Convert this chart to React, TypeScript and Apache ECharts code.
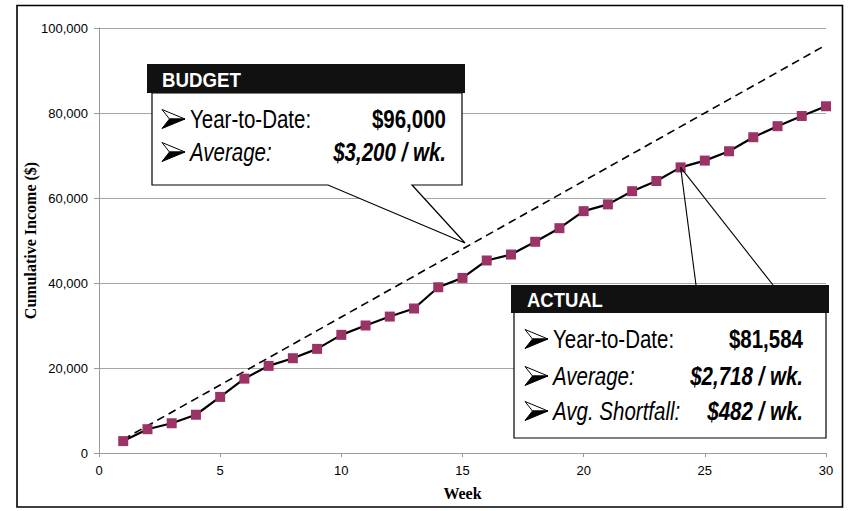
import React, { useEffect, useRef } from "react";
import * as echarts from "echarts";

const weeks = [1, 2, 3, 4, 5, 6, 7, 8, 9, 10, 11, 12, 13, 14, 15, 16, 17, 18, 19, 20, 21, 22, 23, 24, 25, 26, 27, 28, 29, 30];
const actualIncome = [2800, 5600, 7000, 9000, 13200, 17500, 20500, 22300, 24500, 27800, 30000, 32100, 34000, 39000, 41200, 45300, 46700, 49700, 52900, 56900, 58500, 61600, 64000, 67200, 68800, 71000, 74300, 76900, 79300, 81584];
const budgetIncome = [3200, 6400, 9600, 12800, 16000, 19200, 22400, 25600, 28800, 32000, 35200, 38400, 41600, 44800, 48000, 51200, 54400, 57600, 60800, 64000, 67200, 70400, 73600, 76800, 80000, 83200, 86400, 89600, 92800, 96000];
const budgetRows = [
  ["Year-to-Date:", "$96,000"],
  ["Average:", "$3,200 / wk."],
];
const actualRows = [
  ["Year-to-Date:", "$81,584"],
  ["Average:", "$2,718 / wk."],
  ["Avg. Shortfall:", "$482 / wk."],
];
const budgetTitle = "BUDGET";
const actualTitle = "ACTUAL";
const xName = "Week";
const yName = "Cumulative Income ($)";

const SANS = "'Liberation Sans', Arial, Helvetica, sans-serif";
const SERIF = "'Liberation Serif', 'Times New Roman', Times, serif";

function txt(x: number, y: number, text: string, opts: any = {}) {
  const align = opts.align || "left";
  return {
    type: "text",
    x,
    y,
    z: 110,
    scaleX: opts.scaleX ?? 0.82,
    style: {
      text,
      fill: opts.fill || "#000",
      fontSize: opts.fontSize || 25,
      fontFamily: SANS,
      fontWeight: opts.fontWeight || "normal",
      fontStyle: opts.fontStyle || "normal",
      align,
      verticalAlign: "middle",
      textAlign: align,
      textVerticalAlign: "middle",
    },
  };
}

// Wingdings-like arrowhead bullet drawn with two polygons
function arrow(x: number, y: number) {
  const w = 23;
  const h = 9.5;
  const n = 7.5;
  return [
    {
      type: "polygon",
      z: 110,
      shape: { points: [[x, y - h], [x + w, y], [x + n, y]] },
      style: { fill: "#fff", stroke: "#000", lineWidth: 1 },
    },
    {
      type: "polygon",
      z: 110,
      shape: { points: [[x + n, y], [x + w, y], [x, y + h]] },
      style: { fill: "#000", stroke: "#000", lineWidth: 1 },
    },
  ];
}

function rowElements(rows: string[][], ys: number[], arrowX: number, labelX: number, valueX: number) {
  const els: any[] = [];
  rows.forEach((r, i) => {
    const italic = i > 0 ? "italic" : "normal";
    els.push(...arrow(arrowX, ys[i]));
    els.push(txt(labelX, ys[i], r[0], { fontStyle: italic }));
    els.push(txt(valueX, ys[i], r[1], { fontStyle: italic, fontWeight: "bold", align: "right" }));
  });
  return els;
}

export default function App() {
  const ref = useRef<HTMLDivElement>(null);
  useEffect(() => {
    if (!ref.current) return;
    const chart = echarts.init(ref.current, null, { renderer: "svg" });
    chart.setOption({
      animation: false,
      backgroundColor: "#fff",
      grid: { left: 99, right: 24, top: 28, bottom: 58, containLabel: false },
      xAxis: {
        type: "value",
        min: 0,
        max: 30,
        interval: 5,
        name: xName,
        nameLocation: "middle",
        nameGap: 32,
        nameMoveOverlap: false,
        nameTextStyle: { fontFamily: SERIF, fontWeight: "bold", fontSize: 16, color: "#000" },
        axisLine: { show: true, lineStyle: { color: "#9a9a9a", width: 1 } },
        axisTick: { show: true, length: 4, lineStyle: { color: "#9a9a9a" } },
        axisLabel: { fontFamily: SANS, fontSize: 13, color: "#000", margin: 11 },
        splitLine: { show: false },
      },
      yAxis: {
        type: "value",
        min: 0,
        max: 100000,
        interval: 20000,
        name: yName,
        nameLocation: "middle",
        nameGap: 61,
        nameMoveOverlap: false,
        nameTextStyle: { fontFamily: SERIF, fontWeight: "bold", fontSize: 16, color: "#000" },
        axisLine: { show: true, lineStyle: { color: "#9a9a9a", width: 1 } },
        axisTick: { show: true, length: 5, lineStyle: { color: "#9a9a9a" } },
        axisLabel: {
          fontFamily: SANS,
          fontSize: 13,
          color: "#000",
          margin: 11,
          formatter: (v: number) => v.toLocaleString("en-US"),
        },
        splitLine: { show: true, lineStyle: { color: "#a6a6a6", width: 1 } },
      },
      series: [
        {
          name: "Budget",
          type: "line",
          data: weeks.map((w, i) => [w, budgetIncome[i]]),
          symbol: "none",
          lineStyle: { color: "#000", width: 1.6, type: [8, 5] },
          z: 2,
        },
        {
          name: "Actual",
          type: "line",
          data: weeks.map((w, i) => [w, actualIncome[i]]),
          symbol: "rect",
          symbolSize: 10,
          itemStyle: { color: "#9B3366", borderWidth: 0 },
          lineStyle: { color: "#000", width: 2.2 },
          z: 3,
        },
      ],
    });

    const tip = chart.convertToPixel({ gridIndex: 0 }, [24, actualIncome[23]]) as number[];

    const graphic: any[] = [
      {
        type: "rect",
        z: 120,
        shape: { x: 17, y: 5.5, width: 825.5, height: 501.5 },
        style: { fill: "none", stroke: "#000", lineWidth: 1.6 },
        silent: true,
      },
      // Budget callout
      {
        type: "polygon",
        z: 100,
        shape: {
          points: [
            [152, 93], [462, 93], [462, 185], [412, 185], [465, 243], [328, 185], [152, 185],
          ],
        },
        style: { fill: "#fff", stroke: "#000", lineWidth: 1.2 },
      },
      {
        type: "rect",
        z: 105,
        shape: { x: 147, y: 64, width: 318, height: 29 },
        style: { fill: "#111", stroke: "#111", lineWidth: 0 },
      },
      txt(162, 80, budgetTitle, { fill: "#fff", fontWeight: "bold", fontSize: 21, scaleX: 0.89 }),
      ...rowElements(budgetRows, [119, 152], 162, 190, 446),
      // Actual callout
      {
        type: "line",
        z: 99,
        shape: { x1: tip[0], y1: tip[1], x2: 696, y2: 285 },
        style: { stroke: "#000", lineWidth: 1.1 },
      },
      {
        type: "line",
        z: 99,
        shape: { x1: tip[0], y1: tip[1], x2: 773, y2: 285 },
        style: { stroke: "#000", lineWidth: 1.1 },
      },
      {
        type: "rect",
        z: 100,
        shape: { x: 514, y: 300, width: 312, height: 138 },
        style: { fill: "#fff", stroke: "#000", lineWidth: 1.2 },
      },
      {
        type: "rect",
        z: 105,
        shape: { x: 511, y: 285, width: 318, height: 28 },
        style: { fill: "#111", stroke: "#111", lineWidth: 0 },
      },
      txt(527, 300, actualTitle, { fill: "#fff", fontWeight: "bold", fontSize: 21, scaleX: 0.88 }),
      ...rowElements(actualRows, [339, 376, 411], 525, 553, 803),
    ];
    chart.setOption({ graphic });

    return () => chart.dispose();
  }, []);

  return (
    <div
      ref={ref}
      style={{ position: "fixed", left: 0, top: 0, width: 850, height: 511, background: "#fff" }}
    />
  );
}
